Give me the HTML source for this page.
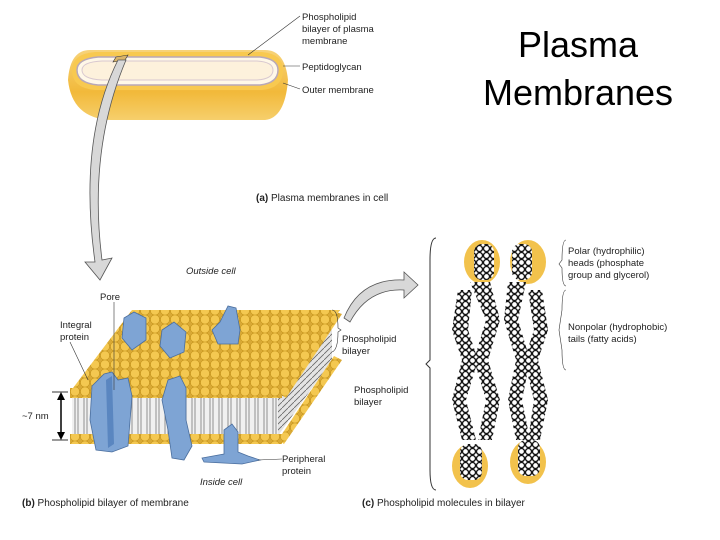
<!DOCTYPE html>
<html><head><meta charset="utf-8"><style>
html,body{margin:0;padding:0;background:#fff;}
svg{display:block;font-family:"Liberation Sans",sans-serif;}
</style></head><body>
<svg width="720" height="540" viewBox="0 0 720 540" xmlns="http://www.w3.org/2000/svg">
<defs>
<linearGradient id="cellg" x1="0" y1="0" x2="0" y2="1"><stop offset="0" stop-color="#f7d37a"/><stop offset="0.6" stop-color="#f2b93a"/><stop offset="1" stop-color="#f6cf6c"/></linearGradient>
<pattern id="heads" width="10" height="9" patternUnits="userSpaceOnUse"><rect width="10" height="9" fill="#d9a935"/><circle cx="5" cy="4.5" r="4.6" fill="#f4c851" stroke="#b8860b" stroke-width="0.5"/></pattern>
<pattern id="tails" width="9" height="10" patternUnits="userSpaceOnUse"><rect width="9" height="10" fill="#f0f0f0"/><line x1="3" y1="0" x2="3" y2="10" stroke="#777" stroke-width="0.8"/><line x1="6" y1="0" x2="6" y2="10" stroke="#777" stroke-width="0.8"/></pattern>
<pattern id="side" width="6" height="6" patternUnits="userSpaceOnUse"><rect width="6" height="6" fill="#e4e4e4"/><line x1="0" y1="6" x2="6" y2="0" stroke="#666" stroke-width="0.8"/></pattern>
<pattern id="chain" width="7" height="7" patternUnits="userSpaceOnUse"><rect width="7" height="7" fill="#fff"/><circle cx="3.5" cy="3.5" r="3" fill="#fff" stroke="#111" stroke-width="1.3"/></pattern>
</defs>

<text x="578" y="57" font-size="36" text-anchor="middle" fill="#000">Plasma</text>
<text x="578" y="105" font-size="36" text-anchor="middle" fill="#000">Membranes</text>

<path d="M90,50 Q70,50 68,80 Q72,118 110,120 L265,120 Q285,118 288,80 Q285,50 265,50 Z" fill="url(#cellg)"/>
<path d="M95,52 L262,52 Q283,54 283,70 Q283,88 262,90 L95,90 Q72,88 72,70 Q72,54 95,52 Z" fill="#f8c950"/>
<path d="M98,57 L260,57 Q278,59 278,70 Q278,83 260,85 L98,85 Q77,83 77,70 Q77,59 98,57 Z" fill="#fff8e8" stroke="#b8a8b8" stroke-width="1.5"/>
<path d="M102,61 L257,61 Q273,62 273,70 Q273,79 257,80 L102,80 Q82,79 82,70 Q82,62 102,61 Z" fill="#fdf1dc" stroke="#d8c8d0" stroke-width="1"/>
<path d="M116,57 L128,55 L125,60 L113,62 Z" fill="#d9b46a" stroke="#333" stroke-width="0.6"/>
<path d="M118,60 Q78,140 95,262 L85,262 L100,280 L112,258 L102,260 Q88,150 126,60 Z" fill="#d8d8d8" stroke="#555" stroke-width="0.8"/>

<g font-size="9.5" fill="#222">
<text x="302" y="20">Phospholipid</text>
<text x="302" y="32">bilayer of plasma</text>
<text x="302" y="44">membrane</text>
<text x="302" y="70">Peptidoglycan</text>
<text x="302" y="93">Outer membrane</text>
<text x="256" y="201" font-size="10"><tspan font-weight="bold">(a)</tspan> Plasma membranes in cell</text>
</g>
<g stroke="#333" stroke-width="0.6" fill="none">
<line x1="300" y1="16" x2="248" y2="55"/>
<line x1="300" y1="66" x2="283" y2="66"/>
<line x1="300" y1="89" x2="283" y2="83"/>
</g>

<polygon points="275,392 332,312 332,360 275,440" fill="url(#side)"/>
<polygon points="72,398 278,398 278,436 72,436" fill="url(#tails)"/>
<polygon points="70,434 282,434 282,444 70,444" fill="url(#heads)"/>
<polygon points="70,388 282,388 282,398 70,398" fill="url(#heads)"/>
<polygon points="70,392 132,310 340,310 282,392" fill="url(#heads)"/>
<polygon points="278,440 334,356 342,360 284,444" fill="url(#heads)"/>
<polygon points="280,394 336,312 342,314 286,398" fill="url(#heads)"/>

<g fill="#7ea4d4" stroke="#4a6e9e" stroke-width="0.8">
<path d="M124,318 L134,312 L146,318 L146,340 L132,350 L122,338 Z"/>
<path d="M162,330 L174,322 L186,332 L184,352 L170,358 L160,346 Z"/>
<path d="M212,330 L220,322 L228,306 L236,308 L240,330 L238,344 L218,344 Z"/>
<path d="M92,386 L104,374 L112,372 L118,380 L128,378 L132,396 L128,446 L112,452 L96,450 L90,420 Z"/>
<path d="M168,380 L180,376 L186,388 L186,420 L192,446 L184,460 L172,458 L168,430 L162,400 Z"/>
<path d="M224,430 L232,424 L238,432 L238,452 L248,456 L260,460 L242,464 L204,462 L202,458 L224,454 Z"/>
</g>
<path d="M106,380 L112,376 L114,444 L108,448 Z" fill="#5a86c0"/>

<line x1="52" y1="392" x2="68" y2="392" stroke="#000" stroke-width="0.8"/>
<line x1="52" y1="440" x2="68" y2="440" stroke="#000" stroke-width="0.8"/>
<line x1="61" y1="396" x2="61" y2="436" stroke="#000" stroke-width="1.5"/>
<polygon points="57,400 61,392 65,400" fill="#000"/>
<polygon points="57,432 61,440 65,432" fill="#000"/>

<g font-size="9.5" fill="#222">
<text x="186" y="274" font-style="italic">Outside cell</text>
<text x="100" y="300">Pore</text>
<text x="60" y="328">Integral</text>
<text x="60" y="340">protein</text>
<text x="22" y="419">~7 nm</text>
<text x="342" y="342">Phospholipid</text>
<text x="342" y="354">bilayer</text>
<text x="282" y="462">Peripheral</text>
<text x="282" y="474">protein</text>
<text x="200" y="485" font-style="italic">Inside cell</text>
<text x="22" y="506" font-size="10"><tspan font-weight="bold">(b)</tspan> Phospholipid bilayer of membrane</text>
<text x="362" y="506" font-size="10"><tspan font-weight="bold">(c)</tspan> Phospholipid molecules in bilayer</text>
<text x="354" y="393">Phospholipid</text>
<text x="354" y="405">bilayer</text>
<text x="568" y="254">Polar (hydrophilic)</text>
<text x="568" y="266">heads (phosphate</text>
<text x="568" y="278">group and glycerol)</text>
<text x="568" y="330">Nonpolar (hydrophobic)</text>
<text x="568" y="342">tails (fatty acids)</text>
</g>
<g stroke="#333" stroke-width="0.6" fill="none">
<line x1="114" y1="302" x2="114" y2="390"/>
<line x1="70" y1="342" x2="88" y2="380"/>
<line x1="258" y1="460" x2="282" y2="459"/>
<path d="M332,310 Q338,310 338,328 L341,330 L338,332 Q338,350 332,352"/>
<path d="M566,240 Q562,240 562,260 L559,264 L562,268 Q562,286 566,286"/>
<path d="M566,290 Q562,290 562,310 L559,330 L562,350 Q562,370 566,370"/>
<path d="M436,238 Q430,238 430,260 L430,360 L426,364 L430,368 L430,470 Q430,490 436,490" stroke-width="1"/>
</g>
<path d="M344,318 Q360,278 404,280 L404,272 L418,285 L404,298 L404,290 Q368,288 350,322 Z" fill="#d8d8d8" stroke="#555" stroke-width="0.8"/>

<g>
<ellipse cx="482" cy="262" rx="18" ry="22" fill="#f2c24c"/>
<ellipse cx="528" cy="262" rx="18" ry="22" fill="#f2c24c"/>
<ellipse cx="470" cy="466" rx="18" ry="22" fill="#f2c24c"/>
<ellipse cx="528" cy="462" rx="18" ry="22" fill="#f2c24c"/>
<g fill="url(#chain)">
<rect x="474" y="244" width="20" height="36" rx="8"/>
<rect x="512" y="244" width="20" height="36" rx="8"/>
<path d="M470,282 L490,282 L500,320 L488,360 L500,400 L492,440 L478,440 L486,400 L474,360 L486,320 Z"/>
<path d="M458,290 L472,290 L468,330 L478,360 L466,400 L476,440 L462,440 L452,400 L462,360 L452,330 Z"/>
<path d="M508,282 L526,282 L518,320 L530,360 L522,400 L530,440 L516,440 L508,400 L516,360 L504,320 Z"/>
<path d="M528,290 L542,290 L548,330 L538,360 L548,400 L540,440 L528,440 L534,400 L524,360 L534,330 Z"/>
<rect x="460" y="444" width="22" height="36" rx="8"/>
<rect x="518" y="440" width="22" height="36" rx="8"/>
</g>
</g>
</svg>
</body></html>
